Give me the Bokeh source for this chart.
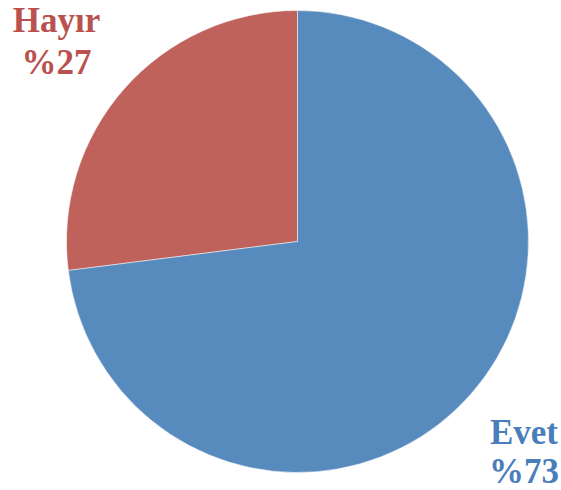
import math
from bokeh.plotting import figure
from bokeh.models import Range1d
from bokeh.core.properties import value
from bokeh.embed import file_html
from bokeh.resources import INLINE

categories = ["Hayır", "Evet"]
values = [27, 73]
colors = ["#C0625C", "#588BBD"]
text_colors = ["#B9524E", "#4A7EBB"]

W, H = 561, 490
p = figure(width=W, height=H, output_backend="svg", toolbar_location=None,
           x_range=Range1d(0, W), y_range=Range1d(0, H), min_border=0)
p.axis.visible = False
p.grid.visible = False
p.outline_line_color = None
p.background_fill_color = "white"
p.border_fill_color = "white"

cx, cy, r = 297, 249, 231
total = sum(values)
start = math.pi / 2
for cat, v, c in zip(categories, values, colors):
    ang = v / total * 2 * math.pi
    p.wedge(x=cx, y=cy, radius=r, radius_units="screen",
            start_angle=start, end_angle=start + ang,
            fill_color=c, line_color="white", line_width=0.5)
    start += ang

label_pos = [(56, 470, 428), (523.5, 58, 19)]
for cat, v, tc, (lx, y1, y2) in zip(categories, values, text_colors, label_pos):
    for txt, ly in ((cat, y1), ("%" + str(v), y2)):
        p.text(x=[lx], y=[ly], text=[txt], text_align="center",
               text_baseline="alphabetic", text_color=tc,
               text_font=value("Liberation Serif"), text_font_style="bold",
               text_font_size="35px")

open("out.html", "w").write(file_html(p, INLINE))
